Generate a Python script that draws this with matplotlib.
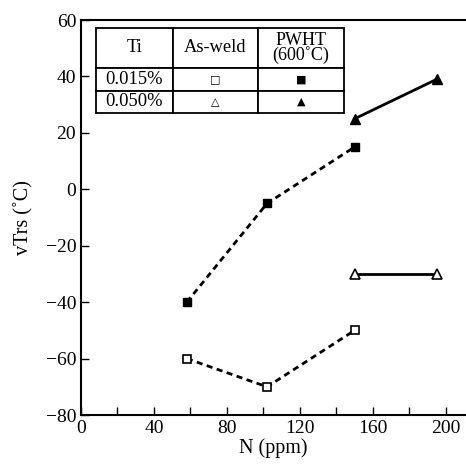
import matplotlib
matplotlib.use("Agg")
import matplotlib.pyplot as plt

# N content (ppm) and vTrs (deg C)
n_low = [58, 102, 150]
aw_low = [-60, -70, -50]        # Ti 0.015%, as-weld
pw_low = [-40, -5, 15]          # Ti 0.015%, PWHT
n_high = [150, 195]
aw_high = [-30, -30]            # Ti 0.050%, as-weld
pw_high = [25, 39]              # Ti 0.050%, PWHT

x_ticks = [0, 40, 80, 120, 160, 200]
x_minor = [20, 60, 100, 140, 180]
y_ticks = [-80, -60, -40, -20, 0, 20, 40, 60]

table_rows = [
    ["Ti", "As-weld", "PWHT\n(600˚C)"],
    ["0.015%", "□", "■"],
    ["0.050%", "△", "▲"],
]

plt.rcParams['font.family'] = ['Liberation Serif', 'DejaVu Sans']

fig = plt.figure(figsize=(4.66, 4.69), dpi=100)
ax = fig.add_axes([0.1738, 0.1151, 0.826, 0.8422])

ax.plot(n_low, aw_low, color='black', lw=2, ls=(0, (2.2, 1.6)),
        marker='s', ms=6, mfc='white', mew=1.2)
ax.plot(n_low, pw_low, color='black', lw=2, ls=(0, (2.2, 1.6)),
        marker='s', ms=6, mfc='black')
ax.plot(n_high, aw_high, color='black', lw=2, ls='-',
        marker='^', ms=6.5, mfc='white', mew=1.2)
ax.plot(n_high, pw_high, color='black', lw=2, ls='-',
        marker='^', ms=6.5, mfc='black')

ax.set_xlim(0, 211)
ax.set_ylim(-80, 60)
ax.set_xticks(x_ticks)
ax.set_xticks(x_minor, minor=True)
ax.set_yticks(y_ticks)
ax.set_yticklabels([str(v).replace('-', '−') for v in y_ticks])
ax.tick_params(direction='in', length=6, width=1, labelsize=14)
ax.tick_params(which='minor', direction='in', length=6, width=1)
ax.spines['right'].set_visible(False)
for s in ['left', 'bottom', 'top']:
    ax.spines[s].set_linewidth(1.5)

ax.set_xlabel("N (ppm)", fontsize=14.5, labelpad=1)
ax.set_ylabel("vTrs (˚C)", fontsize=14.5, labelpad=9)

tbl = ax.table(cellText=table_rows, cellLoc='center',
               bbox=[0.039, 0.765, 0.644, 0.215])
tbl.auto_set_font_size(False)
col_w = [77, 85, 86]
row_h = [40, 23, 22]
for (r, c), cell in tbl.get_celld().items():
    cell.set_width(col_w[c])
    cell.set_height(row_h[r])
    cell.set_linewidth(1.3)
    cell.set_facecolor('white')
    txt = cell.get_text()
    txt.set_fontsize(13.3)
    if r == 0 and c == 2:
        txt.set_fontsize(13)
        txt.set_linespacing(0.8)
    if r > 0 and c > 0:
        txt.set_fontfamily('DejaVu Sans')
        txt.set_fontsize(8)

fig.savefig("out.png", dpi=100)
